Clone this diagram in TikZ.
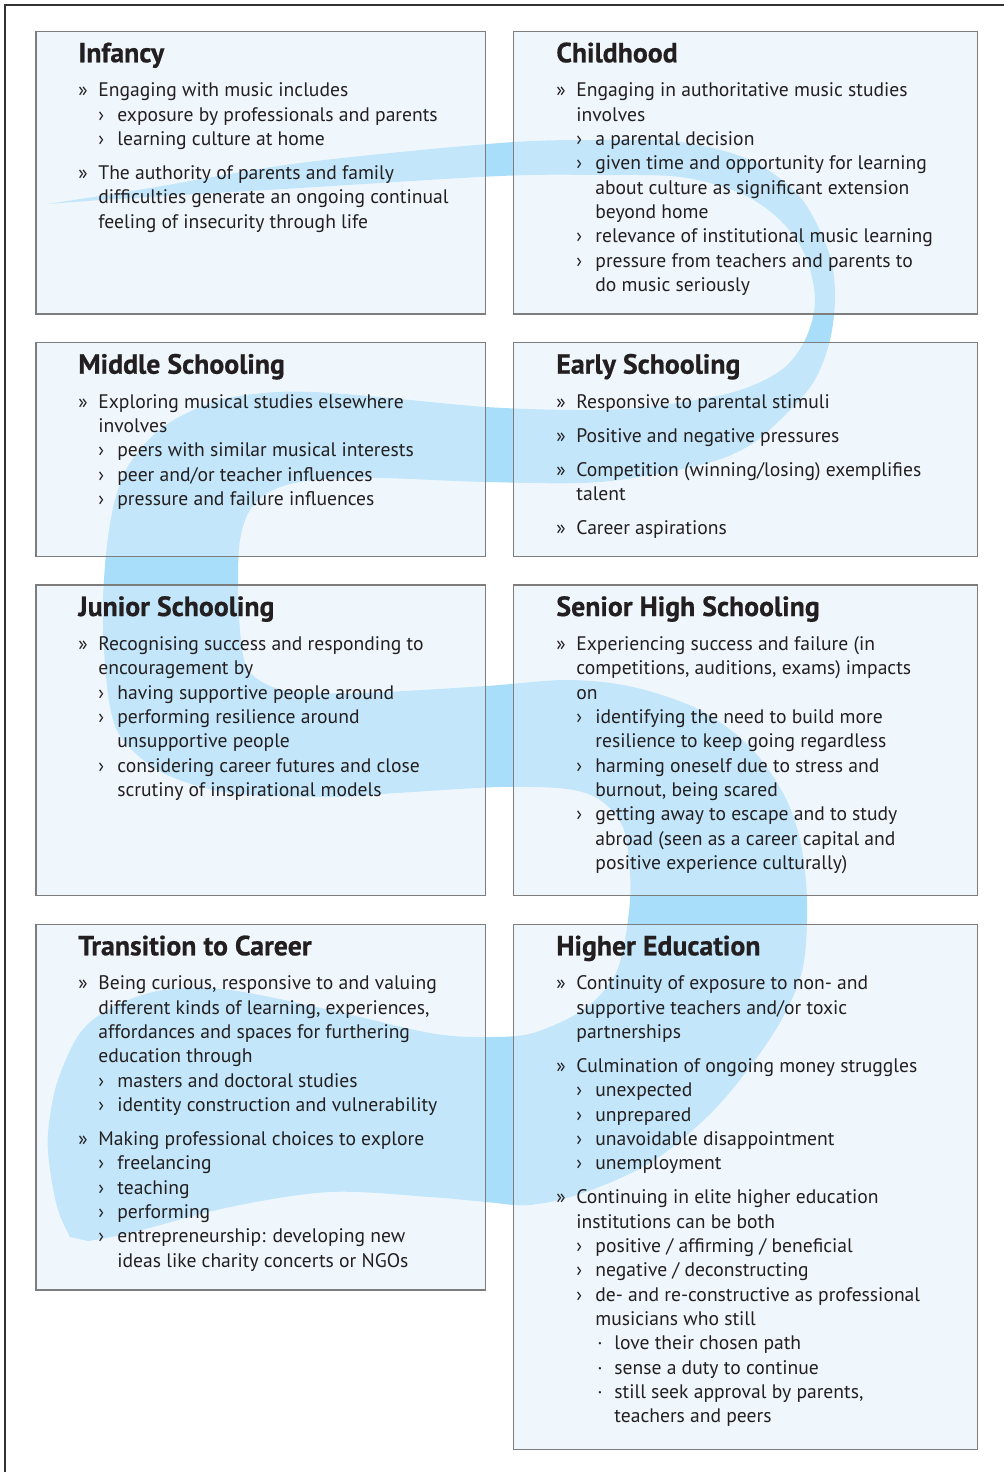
\documentclass[tikz,border=0pt]{standalone}
\usepackage{fontspec}
\setmainfont{PT Sans}
\newfontfamily\headfont{PT Sans}[BoldFeatures={FakeBold=0.6}]
\definecolor{ribbon}{RGB}{168,222,249}
\definecolor{boxfill}{RGB}{223,239,251}
\definecolor{boxline}{RGB}{125,125,125}
\definecolor{txt}{RGB}{35,31,32}
\definecolor{framec}{RGB}{50,50,50}
\newcommand\Ia[1]{\par\hangindent=10pt\hangafter=1\noindent\makebox[10pt][l]{»}#1}
\newcommand\Ib[1]{\par\hangindent=19.5pt\hangafter=1\noindent\hspace*{10pt}\makebox[9.5pt][l]{›}#1}
\newcommand\Ic[1]{\par\hangindent=29pt\hangafter=1\noindent\hspace*{20.5pt}\makebox[8.5pt][l]{·}#1}
\newcommand\Gap{\par\vspace{4.85pt}}
\newcommand\Body[1]{\parbox[t]{260pt}{\fontsize{9.8pt}{12.17pt}\selectfont\raggedright #1}}
\begin{document}
\begin{tikzpicture}[x=0.5pt,y=-0.5pt,
  panel/.style={draw=boxline,line width=0.55pt,fill=boxfill,fill opacity=0.5,draw opacity=1},
  head/.style={anchor=base west,inner sep=0pt,text=txt,font=\headfont\fontsize{13.9pt}{15pt}\selectfont\bfseries},
  body/.style={anchor=base west,inner sep=0pt,text=txt}]
\useasboundingbox (0,0) rectangle (1004,1472);
% ribbon
\fill[ribbon]
 plot[smooth,tension=0.55] coordinates {(48,204) (150,188) (300,163) (500,143) (600,140) (680,142) (750,160) (800,197) (828,250) (835,293) (830,340) (813,383) (780,420) (747,447) (700,465) (600,482) (486,482) (380,478) (313,480) (273,490) (250,510) (240,540) (238,580) (240,630) (247,668) (270,686) (300,692) (363,693) (486,686) (567,680) (633,687) (700,710) (750,747) (783,793) (800,840) (807,900) (803,967) (783,1017) (750,1067) (707,1117) (650,1163) (583,1193) (530,1205) (486,1202) (430,1197) (330,1192) (230,1207) (130,1233) (88,1241)}
 -- plot[smooth,tension=0.55] coordinates {(70,1237) (58,1210) (50,1170) (48,1133) (57,1083) (80,1033) (113,1007) (163,990) (230,990) (330,1010) (430,1033) (486,1037) (533,1033) (583,1010) (612,980) (623,950) (630,900) (629,860) (622,825) (600,800) (567,789) (500,787) (397,793) (330,797) (230,793) (163,773) (123,740) (110,707) (104,650) (103,600) (107,545) (115,500) (130,463) (163,427) (213,402) (263,393) (313,392) (380,397) (486,407) (580,410) (647,407) (730,393) (780,371) (805,340) (815,300) (805,255) (780,220) (740,193) (680,177) (600,175) (500,176) (300,188) (100,200)}
 -- cycle;
% frame
\draw[framec,line width=0.65pt] (5,1472) -- (5,5) -- (1004,5);
% panels
\draw[panel] (36,31.3) rectangle (485.5,314);
\draw[panel] (513.5,31.3) rectangle (977.5,314);
\draw[panel] (36,342.7) rectangle (485.5,556.7);
\draw[panel] (513.5,342.7) rectangle (977.5,556.7);
\draw[panel] (36,585) rectangle (485.5,895.7);
\draw[panel] (513.5,585) rectangle (977.5,895.7);
\draw[panel] (36,924.3) rectangle (485.5,1290);
\draw[panel] (513.5,924.3) rectangle (977.5,1449.5);
% headings
\node[head] (hInf) at (78,62.3) {Infancy};
\node[head] (hChi) at (556,62.3) {Childhood};
\node[head] (hMid) at (78,373.7) {Middle Schooling};
\node[head] (hEar) at (556,373.7) {Early Schooling};
\node[head] (hJun) at (78,616) {Junior Schooling};
\node[head] (hSen) at (556,616) {Senior High Schooling};
\node[head] (hTra) at (78,955.3) {Transition to Career};
\node[head] (hHig) at (556,955.3) {Higher Education};
% bodies
\node[body] (bInf) at (78,96.7) {\Body{%
\Ia{Engaging with music includes}
\Ib{exposure by professionals and parents}
\Ib{learning culture at home}
\Gap
\Ia{The authority of parents and family\newline difficulties generate an ongoing continual\newline feeling of insecurity through life}}};
\node[body] (bChi) at (556,96.7) {\Body{%
\Ia{Engaging in authoritative music studies\newline involves}
\Ib{a parental decision}
\Ib{given time and opportunity for learning\newline about culture as significant extension\newline beyond home}
\Ib{relevance of institutional music learning}
\Ib{pressure from teachers and parents to\newline do music seriously}}};
\node[body] (bMid) at (78,408.1) {\Body{%
\Ia{Exploring musical studies elsewhere\newline involves}
\Ib{peers with similar musical interests}
\Ib{peer and/or teacher influences}
\Ib{pressure and failure influences}}};
\node[body] (bEar) at (556,408.1) {\Body{%
\Ia{Responsive to parental stimuli}
\Gap
\Ia{Positive and negative pressures}
\Gap
\Ia{Competition (winning/losing) exemplifies\newline talent}
\Gap
\Ia{Career aspirations}}};
\node[body] (bJun) at (78,650.4) {\Body{%
\Ia{Recognising success and responding to\newline encouragement by}
\Ib{having supportive people around}
\Ib{performing resilience around\newline unsupportive people}
\Ib{considering career futures and close\newline scrutiny of inspirational models}}};
\node[body] (bSen) at (556,650.4) {\Body{%
\Ia{Experiencing success and failure (in\newline competitions, auditions, exams) impacts\newline on}
\Ib{identifying the need to build more\newline resilience to keep going regardless}
\Ib{harming oneself due to stress and\newline burnout, being scared}
\Ib{getting away to escape and to study\newline abroad (seen as a career capital and\newline positive experience culturally)}}};
\node[body] (bTra) at (78,989.7) {\Body{%
\Ia{Being curious, responsive to and valuing\newline different kinds of learning, experiences,\newline affordances and spaces for furthering\newline education through}
\Ib{masters and doctoral studies}
\Ib{identity construction and vulnerability}
\Gap
\Ia{Making professional choices to explore}
\Ib{freelancing}
\Ib{teaching}
\Ib{performing}
\Ib{entrepreneurship: developing new\newline ideas like charity concerts or NGOs}}};
\node[body] (bHig) at (556,989.7) {\Body{%
\Ia{Continuity of exposure to non- and\newline supportive teachers and/or toxic\newline partnerships}
\Gap
\Ia{Culmination of ongoing money struggles}
\Ib{unexpected}
\Ib{unprepared}
\Ib{unavoidable disappointment}
\Ib{unemployment}
\Gap
\Ia{Continuing in elite higher education\newline institutions can be both}
\Ib{positive / affirming / beneficial}
\Ib{negative / deconstructing}
\Ib{de- and re-constructive as professional\newline musicians who still}
\Ic{love their chosen path}
\Ic{sense a duty to continue}
\Ic{still seek approval by parents,\newline teachers and peers}}};
\end{tikzpicture}
\end{document}
